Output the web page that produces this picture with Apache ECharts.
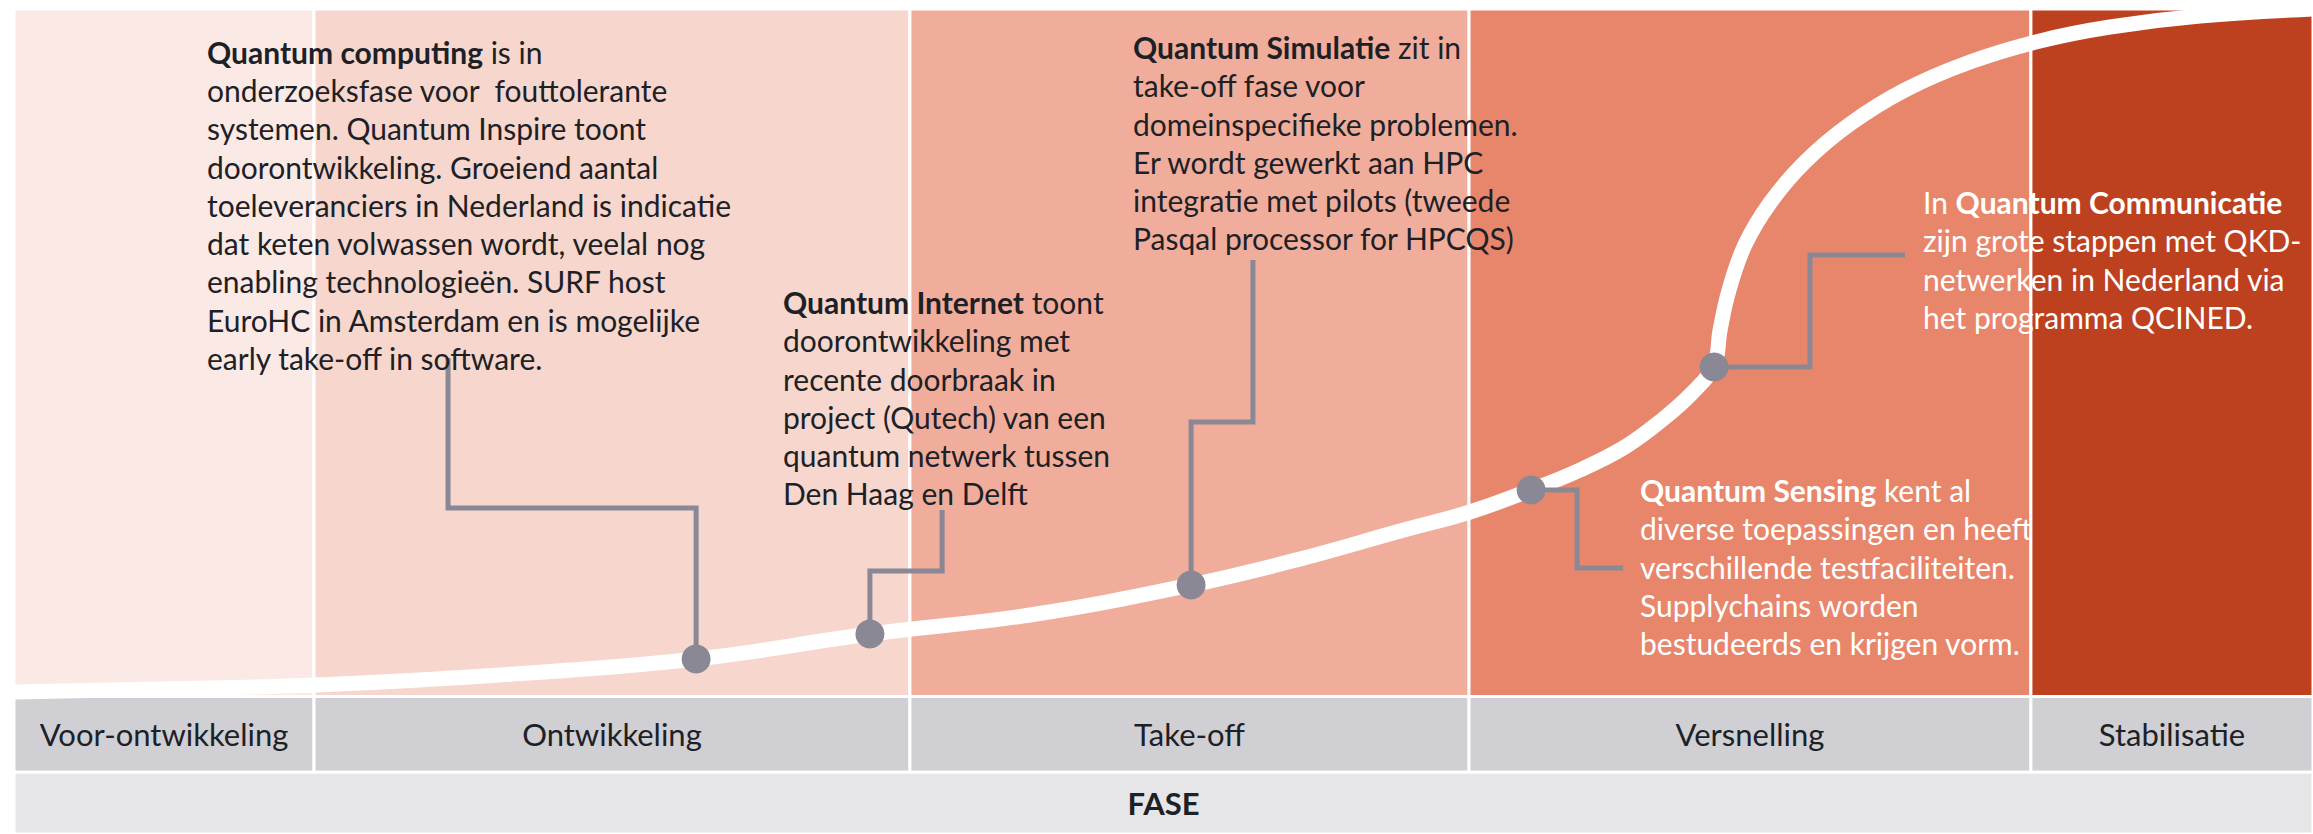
<!DOCTYPE html>
<html><head><meta charset="utf-8">
<script src="https://cdn.jsdelivr.net/npm/echarts@6/dist/echarts.min.js"></script>
<style>html,body{margin:0;padding:0;background:#fff}#c{width:2313px;height:834px}</style>
</head><body><div id="c"></div>
<script>
// Phases along the x axis (relative development time 0-100)
const phases = ['Voor-ontwikkeling', 'Ontwikkeling', 'Take-off', 'Versnelling', 'Stabilisatie'];
const phaseBounds = [0, 13.05, 38.97, 63.29, 87.73, 100];
const phaseColors = ['#fbe9e5', '#f6d6cd', '#f0ad9b', '#e8866b', '#be411f'];
const axisTitle = 'FASE';

// S-curve (maturity 0-100)
const curveX = [0, 6.35, 13.14, 21.14, 29.67, 37.23, 44.19, 51.20, 55.94, 60.29, 63.33, 65.99, 68.12, 70.07, 71.68, 72.99, 73.95, 74.21, 74.60, 75.29, 76.38, 77.90, 79.86, 82.25, 85.08, 88.12, 91.17, 95.08, 100];
const curveY = [0.65, 1.09, 1.67, 3.13, 5.45, 9.09, 11.85, 16.22, 20.00, 24.07, 26.84, 30.04, 32.95, 36.29, 40.22, 44.15, 48.22, 53.31, 59.13, 65.67, 71.78, 77.75, 83.27, 88.22, 92.29, 95.35, 97.38, 98.98, 100];

// Technologies on the curve
const techNames = ['Quantum computing', 'Quantum Internet', 'Quantum Simulatie', 'Quantum Sensing', 'Quantum Communicatie'];
const techX = [29.67, 37.23, 51.20, 65.99, 73.95];
const techY = [5.45, 9.09, 16.22, 30.04, 47.93];

// Leader lines from each point to its note (data units)
const leaderX = [
  [29.67, 29.67, 18.88, 18.88],
  [37.23, 37.23, 40.37, 40.37],
  [51.20, 51.20, 53.89, 53.89],
  [65.99, 67.99, 67.99, 69.99],
  [73.95, 78.12, 78.12, 82.25]
];
const leaderY = [
  [5.45, 27.42, 27.42, 49.24],
  [9.09, 18.25, 18.25, 27.13],
  [16.22, 39.93, 39.93, 63.49],
  [30.04, 30.04, 18.69, 18.69],
  [47.93, 47.93, 64.22, 64.22]
];

// Note texts
const notes = [
  ['{b|Quantum computing} is in', 'onderzoeksfase voor  fouttolerante', 'systemen. Quantum Inspire toont', 'doorontwikkeling. Groeiend aantal', 'toeleveranciers in Nederland is indicatie', 'dat keten volwassen wordt, veelal nog', 'enabling technologieën. SURF host', 'EuroHC in Amsterdam en is mogelijke', 'early take-off in software.'],
  ['{b|Quantum Internet} toont', 'doorontwikkeling met', 'recente doorbraak in', 'project (Qutech) van een', 'quantum netwerk tussen', 'Den Haag en Delft'],
  ['{b|Quantum Simulatie} zit in', 'take-off fase voor', 'domeinspecifieke problemen.', 'Er wordt gewerkt aan HPC', 'integratie met pilots (tweede', 'Pasqal processor for HPCQS)'],
  ['{b|Quantum Sensing} kent al', 'diverse toepassingen en heeft', 'verschillende testfaciliteiten.', 'Supplychains worden', 'bestudeerds en krijgen vorm.'],
  ['In {b|Quantum Communicatie}', 'zijn grote stappen met QKD-', 'netwerken in Nederland via', 'het programma QCINED.']
];

const FONT = 'Lato, "Open Sans", sans-serif';
const DARK = '#1d2126';
const GREY = '#8a8894';

const areas = [];
phases.forEach((p, i) => {
  areas.push([{ xAxis: phaseBounds[i], yAxis: 0, itemStyle: { color: phaseColors[i] }, label: { show: false } },
              { xAxis: phaseBounds[i + 1], yAxis: 100 }]);
});
phases.forEach((p, i) => {
  areas.push([{ name: p, xAxis: phaseBounds[i], yAxis: -11, itemStyle: { color: '#d0cfd4' } },
              { xAxis: phaseBounds[i + 1], yAxis: 0 }]);
});
areas.push([{ name: axisTitle, xAxis: 0, yAxis: -20, itemStyle: { color: '#e6e6e8' }, label: { fontWeight: 'bold' } },
            { xAxis: 100, yAxis: -11 }]);

const series = [{
  type: 'line', data: [], z: 1, silent: true,
  markArea: {
    silent: true,
    itemStyle: { borderColor: '#fff', borderWidth: 3 },
    label: { show: true, position: 'inside', color: DARK, fontSize: 31, fontFamily: FONT },
    data: areas
  }
}, {
  type: 'line', z: 3, silent: true, smooth: 0.4, symbol: 'none', clip: true,
  data: curveX.map((x, i) => [x, curveY[i]]),
  lineStyle: { color: '#ffffff', width: 15 }
}];
leaderX.forEach((xs, k) => {
  series.push({
    type: 'line', z: 4, silent: true, symbol: 'none',
    data: xs.map((x, i) => [x, leaderY[k][i]]),
    lineStyle: { color: GREY, width: 5, join: 'miter', cap: 'butt' }
  });
});
series.push({
  type: 'scatter', z: 5, silent: true, symbolSize: 29,
  itemStyle: { color: GREY, opacity: 1 },
  data: techX.map((x, i) => ({ name: techNames[i], value: [x, techY[i]] }))
});

const LH = 38.3;
const notePos = [[207, 51.7], [783, 302], [1133, 47], [1640, 490], [1923, 202]];
const noteColor = [DARK, DARK, DARK, '#ffffff', '#ffffff'];
const graphic = notes.map((lines, i) => ({
  type: 'text', z: 100, left: notePos[i][0], top: notePos[i][1] - LH / 2,
  style: {
    text: lines.join('\n'), fill: noteColor[i], fontFamily: FONT, fontSize: 30, lineHeight: LH,
    rich: { b: { fontWeight: 'bold', fontFamily: FONT, fontSize: 30, lineHeight: LH, fill: noteColor[i] } }
  }
}));

const chart = echarts.init(document.getElementById('c'), null, { renderer: 'svg' });
chart.setOption({
  animation: false,
  backgroundColor: '#ffffff',
  grid: { left: 14, right: 0, top: 9, bottom: 0 },
  xAxis: { type: 'value', min: 0, max: 100, show: false },
  yAxis: { type: 'value', min: -20, max: 100, show: false },
  series: series,
  graphic: graphic
});
</script></body></html>
